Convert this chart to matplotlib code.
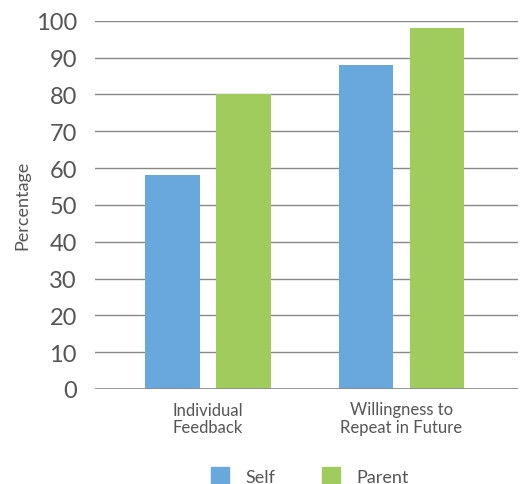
import matplotlib
matplotlib.use("Agg")
import matplotlib.pyplot as plt
import numpy as np
from matplotlib.patches import Patch

categories = ["Individual\nFeedback", "Willingness to\nRepeat in Future"]
self_vals = [58, 88]
parent_vals = [80, 98]
yticks = [0, 10, 20, 30, 40, 50, 60, 70, 80, 90, 100]

plt.rcParams['font.family'] = ['Lato', 'DejaVu Sans']
txt = '#555555'
blue = '#68a8dc'
green = '#9fcc5c'

fig = plt.figure(figsize=(5.21, 4.85), dpi=100)
ax = fig.add_axes([95/521, 1-390/485, (518-95)/521, (390-21.7)/485])

x = np.arange(len(categories))
w = 0.284
off = 0.1835
ax.bar(x - off, self_vals, w, color=blue, zorder=3)
ax.bar(x + off, parent_vals, w, color=green, zorder=3)

ax.set_ylim(0, 100)
ax.set_xlim(-0.584, 1.602)
ax.set_yticks(yticks)
ax.set_yticklabels([str(t) for t in yticks], fontsize=17, color=txt)
ax.set_xticks(x)
ax.set_xticklabels(categories, fontsize=12, color=txt, linespacing=1.15)
ax.tick_params(axis='y', length=0, pad=13)
ax.tick_params(axis='x', length=0, pad=9)
for s in ax.spines.values():
    s.set_visible(False)
ax.grid(axis='y', color='#888888', linewidth=1.0, zorder=0)
ax.axhline(0, color='#888888', linewidth=1.2, zorder=4)
ax.set_ylabel("Percentage", fontsize=13, color=txt, labelpad=4)

handles = [Patch(color=blue, label="Self"), Patch(color=green, label="Parent")]
fig.legend(handles=handles, loc='lower center', bbox_to_anchor=(0.595, -0.035), ncol=2,
           frameon=False, fontsize=13, labelcolor=txt, handlelength=1.0, handleheight=1.0,
           columnspacing=2.6, handletextpad=0.9)

fig.savefig("out.png", dpi=100)
